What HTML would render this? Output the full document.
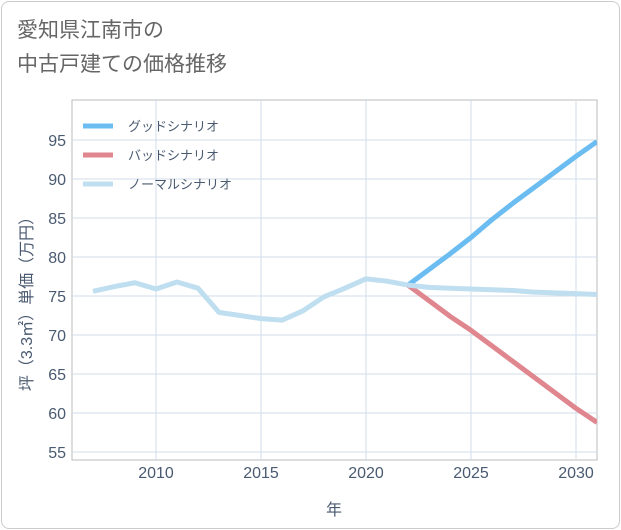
<!DOCTYPE html>
<html><head><meta charset="utf-8"><style>
body{margin:0;background:#fff;}
#card{position:absolute;left:1px;top:1px;width:617px;height:526px;border:1px solid #ccc;border-radius:8px;background:#fff;}
#title{position:absolute;left:17px;top:14px;font:21px/34px "Liberation Sans","Noto Sans CJK JP",sans-serif;color:#666;}
svg{position:absolute;left:0;top:0;}
text{font-family:"Liberation Sans","Noto Sans CJK JP",sans-serif;}
</style></head><body>
<div id="card"></div>
<div id="title">愛知県江南市の<br>中古戸建ての価格推移</div>
<svg id="chart" width="621" height="530"></svg>
<script>
const years=[2007,2008,2009,2010,2011,2012,2013,2014,2015,2016,2017,2018,2019,2020,2021,2022];
const normalHist=[75.6,76.2,76.7,75.9,76.8,76.0,72.9,72.5,72.1,71.9,73.1,74.9,76.0,77.2,76.9,76.4];
const futureYears=[2022,2023,2024,2025,2026,2027,2028,2029,2030,2031];
const goodVals=[76.4,78.4,80.4,82.5,84.8,86.9,88.9,90.9,92.9,94.8];
const badVals=[76.4,74.4,72.4,70.6,68.6,66.6,64.6,62.6,60.6,58.8];
const normalVals=[76.4,76.1,76.0,75.9,75.8,75.7,75.5,75.4,75.3,75.2];
const xTicks=[2010,2015,2020,2025,2030];
const yTicks=[55,60,65,70,75,80,85,90,95];
const legendLabels=["グッドシナリオ","バッドシナリオ","ノーマルシナリオ"];
const colors=["#6bbcf0","#e0868f","#bfdff0"];
const L=72,R=597,T=100,B=460;
const x=y=>L+(y-2006)*(R-L)/25;
const yv=v=>452-(v-55)*7.8;
const svg=document.getElementById('chart');
const NS='http://www.w3.org/2000/svg';
function mk(t,a){const e=document.createElementNS(NS,t);for(const k in a)e.setAttribute(k,a[k]);svg.appendChild(e);return e;}
let bg=mk('rect',{x:L,y:T,width:R-L,height:B-T,fill:'#fff',stroke:'#bbb'});


for(const t of xTicks){
 let g=mk('line',{x1:x(t),x2:x(t),y1:T,y2:B,stroke:'#d0dde8'});
 
 
 let l=mk('text',{x:x(t),y:478,'text-anchor':'middle','font-size':16,fill:'#4a5a70'});l.textContent=t;
 
 
}
for(const t of yTicks){
 let g=mk('line',{x1:L,x2:R,y1:yv(t),y2:yv(t),stroke:'#d0dde8'});
 
 
 let l=mk('text',{x:66,y:yv(t)+6,'text-anchor':'end','font-size':16,fill:'#4a5a70'});l.textContent=t;
 
 
}
let xt=mk('text',{x:334,y:515,'text-anchor':'middle','font-size':16,fill:'#4a5a70'});xt.textContent='年';


let yt=mk('text',{x:0,y:0,'text-anchor':'middle','font-size':16,fill:'#4a5a70',transform:'translate(32,300) rotate(-90)'});yt.textContent='坪（3.3㎡）単価（万円）';


function line(xs,vs,c,name){
 const d=xs.map((t,i)=>(i?'L':'M')+x(t)+','+yv(vs[i])).join(' ');
 let p=mk('path',{d:d,fill:'none',stroke:c,'stroke-width':5,'stroke-linejoin':'round'});
 
 
}
const clip=mk('clipPath',{id:'cp'});const cr=document.createElementNS(NS,'rect');
cr.setAttribute('x',L);cr.setAttribute('y',T);cr.setAttribute('width',R-L);cr.setAttribute('height',B-T);clip.appendChild(cr);
line(futureYears,goodVals,colors[0],'good-scenario-line');
line(futureYears,badVals,colors[1],'bad-scenario-line');
line(futureYears,normalVals,colors[2],'normal-scenario-line');
line(years,normalHist,colors[2],'historical-line');
svg.querySelectorAll('path').forEach(p=>p.setAttribute('clip-path','url(#cp)'));
legendLabels.forEach((s,i)=>{
 const yy=126+i*29;
 let l=mk('line',{x1:83,x2:113,y1:yy,y2:yy,stroke:colors[i],'stroke-width':5});
 
 
 let t=mk('text',{x:128,y:yy+5,'font-size':13,fill:'#4a5a70'});t.textContent=s;
 
 
});
</script>
</body></html>
